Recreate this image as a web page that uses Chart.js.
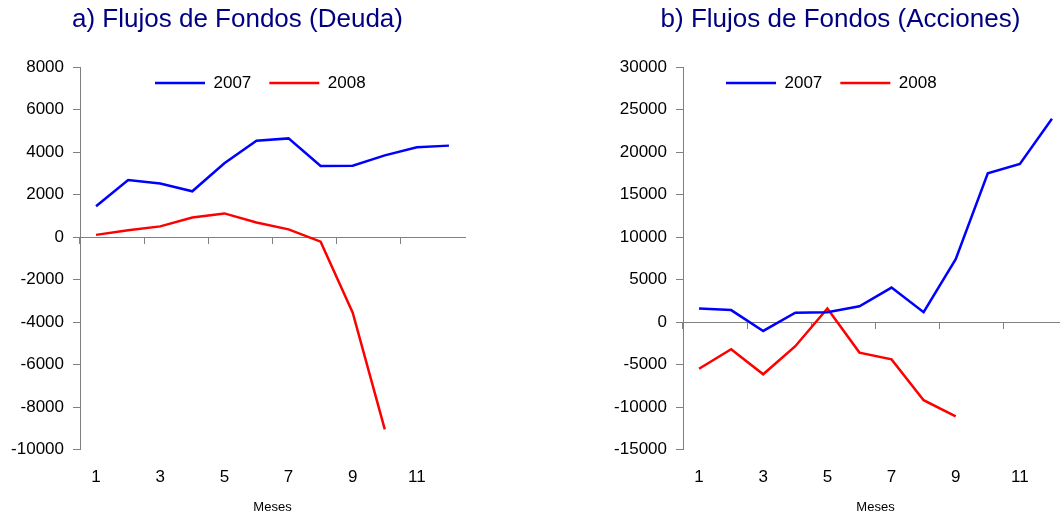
<!DOCTYPE html>
<html lang="es">
<head>
<meta charset="utf-8">
<title>Flujos de Fondos</title>
<script src="https://cdn.jsdelivr.net/npm/chart.js@4.4.1/dist/chart.umd.min.js"></script>
<style>
  html, body { margin: 0; padding: 0; background: #fff; }
  body { width: 1060px; height: 516px; overflow: hidden; position: relative; }
  .panel { position: absolute; top: 0; width: 480px; height: 516px; }
  #panelA { left: 0; }
  #panelB { left: 603px; }
</style>
</head>
<body>
<div class="panel" id="panelA"><canvas id="graficoDeuda"></canvas></div>
<div class="panel" id="panelB"><canvas id="graficoAcciones"></canvas></div>
<script>
const meses = ['1', '2', '3', '4', '5', '6', '7', '8', '9', '10', '11', '12'];

// a) Deuda
const deuda2007 = [1450, 2680, 2520, 2150, 3470, 4530, 4640, 3340, 3350, 3840, 4220, 4300];
const deuda2008 = [100, 320, 500, 920, 1110, 680, 360, -220, -3560, -9050];
const rangoDeuda = [-10000, 8000, 2000];

// b) Acciones
const acciones2007 = [1600, 1400, -1050, 1100, 1150, 1850, 4050, 1150, 7400, 17500, 18600, 23900];
const acciones2008 = [-5500, -3200, -6150, -2850, 1600, -3600, -4400, -9200, -11100];
const rangoAcciones = [-15000, 30000, 5000];

const gris = '#808080';
Chart.defaults.font.family = '"Liberation Sans", Arial, sans-serif';
Chart.defaults.color = '#000';

// mete la leyenda dentro del area del grafico
const posLeyenda = {
    id: 'posLeyenda',
    afterLayout(chart, args, opts) {
        const leg = chart.legend;
        if (!leg) return;
        const w = leg.right - leg.left;
        const h = leg.bottom - leg.top;
        leg.left = chart.chartArea.left + opts.x;
        leg.right = leg.left + w;
        leg.top = chart.chartArea.top + opts.y;
        leg.bottom = leg.top + h;
    }
};

function crearGrafico(id, titulo, serie2007, serie2008, rango, legX) {
    const ctx = document.getElementById(id);
    return new Chart(ctx, {
        type: 'line',
        data: {
            labels: meses,
            datasets: [
                { label: '2007', data: serie2007, borderColor: '#0000ff', backgroundColor: '#0000ff', borderWidth: 2.5, pointRadius: 0, tension: 0, xAxisID: 'x', yAxisID: 'y' },
                { label: '2008', data: serie2008, borderColor: '#ff0000', backgroundColor: '#ff0000', borderWidth: 2.5, pointRadius: 0, tension: 0, xAxisID: 'x', yAxisID: 'y' }
            ]
        },
        options: {
            responsive: true,
            maintainAspectRatio: false,
            animation: false,
            layout: { padding: { left: 10, right: 15, top: 0, bottom: 1 } },
            plugins: {
                title: {
                    display: true,
                    text: titulo,
                    color: '#000080',
                    font: { size: 26, weight: 'normal', lineHeight: 1 },
                    padding: { top: 7, bottom: 0 }
                },
                legend: {
                    position: 'top',
                    align: 'start',
                    maxHeight: 34,
                    labels: {
                        usePointStyle: true,
                        pointStyle: 'line',
                        pointStyleWidth: 50,
                        color: '#000',
                        font: { size: 17 },
                        padding: 18
                    }
                },
                tooltip: { enabled: false },
                posLeyenda: { x: legX, y: -10.5 }
            },
            scales: {
                x: {
                    type: 'category',
                    position: { y: 0 },
                    offset: true,
                    grid: {
                        offset: true,
                        drawOnChartArea: false,
                        drawTicks: true,
                        tickLength: 6,
                        tickColor: c => (c.index % 2 === 0 ? gris : 'rgba(0,0,0,0)')
                    },
                    border: { color: gris, width: 1 },
                    ticks: { display: false }
                },
                meses: {
                    type: 'category',
                    position: 'bottom',
                    offset: true,
                    grid: { display: false, drawTicks: false },
                    border: { display: false },
                    ticks: {
                        autoSkip: false,
                        maxRotation: 0,
                        color: '#000',
                        font: { size: 17 },
                        padding: 18,
                        callback: function (v, i) {
                            return i % 2 === 0 ? this.getLabelForValue(v) : '';
                        }
                    },
                    title: {
                        display: true,
                        text: 'Meses',
                        color: '#000',
                        font: { size: 13 },
                        padding: { top: 0, bottom: 0 }
                    },
                    afterFit: s => { s.height = 65.5; }
                },
                y: {
                    min: rango[0],
                    max: rango[1],
                    ticks: {
                        stepSize: rango[2],
                        color: '#000',
                        font: { size: 17 },
                        padding: 9,
                        callback: v => String(v)
                    },
                    grid: { drawOnChartArea: false, tickLength: 7, color: gris },
                    border: { color: gris, width: 1 },
                    afterFit: s => { s.width = 70; }
                }
            }
        },
        plugins: [posLeyenda]
    });
}

document.addEventListener('DOMContentLoaded', function () {
    try {
        crearGrafico('graficoDeuda', 'a) Flujos de Fondos (Deuda)', deuda2007, deuda2008, rangoDeuda, 57);
        crearGrafico('graficoAcciones', 'b) Flujos de Fondos (Acciones)', acciones2007, acciones2008, rangoAcciones, 25);
    } catch (error) {
        console.error('Error al crear el gráfico:', error);
    }
});
</script>
</body>
</html>
